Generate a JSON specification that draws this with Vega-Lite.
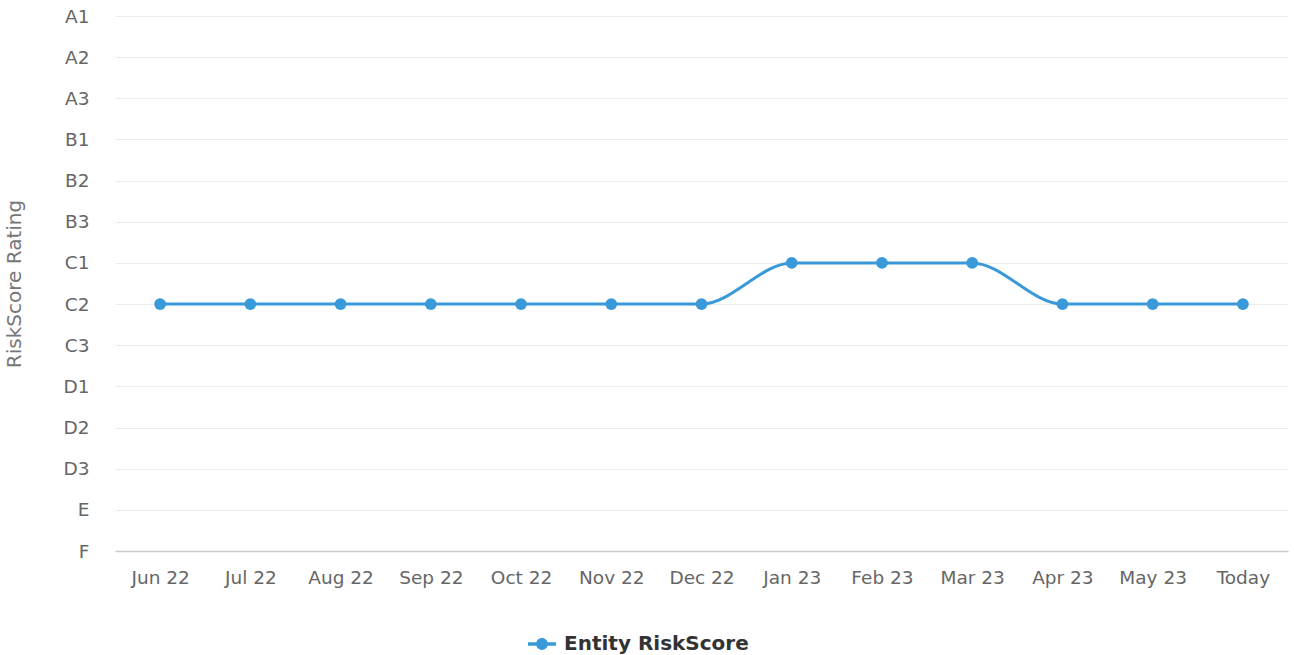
{
  "$schema": "https://vega.github.io/schema/vega-lite/v6.json",
  "autosize": {"type": "none"},
  "width": 1173,
  "height": 535,
  "padding": {"left": 115, "top": 16, "right": 6, "bottom": 104},
  "background": "white",
  "config": {
    "font": "DejaVu Sans",
    "view": {"stroke": null}
  },
  "data": {
    "values": [
      {"month": "Jun 22", "rating": "C2", "series": "Entity RiskScore"},
      {"month": "Jul 22", "rating": "C2", "series": "Entity RiskScore"},
      {"month": "Aug 22", "rating": "C2", "series": "Entity RiskScore"},
      {"month": "Sep 22", "rating": "C2", "series": "Entity RiskScore"},
      {"month": "Oct 22", "rating": "C2", "series": "Entity RiskScore"},
      {"month": "Nov 22", "rating": "C2", "series": "Entity RiskScore"},
      {"month": "Dec 22", "rating": "C2", "series": "Entity RiskScore"},
      {"month": "Jan 23", "rating": "C1", "series": "Entity RiskScore"},
      {"month": "Feb 23", "rating": "C1", "series": "Entity RiskScore"},
      {"month": "Mar 23", "rating": "C1", "series": "Entity RiskScore"},
      {"month": "Apr 23", "rating": "C2", "series": "Entity RiskScore"},
      {"month": "May 23", "rating": "C2", "series": "Entity RiskScore"},
      {"month": "Today", "rating": "C2", "series": "Entity RiskScore"}
    ]
  },
  "encoding": {
    "x": {
      "field": "month", "type": "ordinal", "sort": null,
      "scale": {"type": "point", "padding": 0.5},
      "axis": {
        "title": null, "labelAngle": 0, "labelFontSize": 18.5, "labelColor": "#666666",
        "labelPadding": 17, "ticks": false, "grid": false,
        "domainColor": "#cccccc", "domainWidth": 1.5
      }
    },
    "y": {
      "field": "rating", "type": "ordinal",
      "scale": {"type": "point", "padding": 0,
        "domain": ["A1","A2","A3","B1","B2","B3","C1","C2","C3","D1","D2","D3","E","F"]},
      "axis": {
        "title": "RiskScore Rating", "titleFontSize": 20, "titleFontWeight": "normal",
        "titleColor": "#777777", "titlePadding": 38,
        "labelFontSize": 18.5, "labelColor": "#666666", "labelPadding": 26,
        "ticks": false, "domain": false, "grid": true, "gridColor": "#ececec", "gridWidth": 1
      }
    },
    "color": {
      "field": "series", "type": "nominal",
      "scale": {"range": ["#3a9ad9"]},
      "legend": {
        "title": null, "orient": "none", "legendX": 413, "legendY": 614,
        "labelFontSize": 20, "labelFontWeight": "bold", "labelColor": "#333333", "labelLimit": 500,
        "symbolType": "M-1,-0.12H1V0.12H-1Z M0.42,0A0.42,0.42 0 1,1 -0.42,0A0.42,0.42 0 1,1 0.42,0Z",
        "symbolSize": 784, "symbolStrokeWidth": 0, "labelOffset": 8
      }
    }
  },
  "layer": [
    {"mark": {"type": "line", "interpolate": "monotone", "strokeWidth": 3}},
    {"mark": {"type": "point", "filled": true, "size": 140, "opacity": 1}}
  ]
}
